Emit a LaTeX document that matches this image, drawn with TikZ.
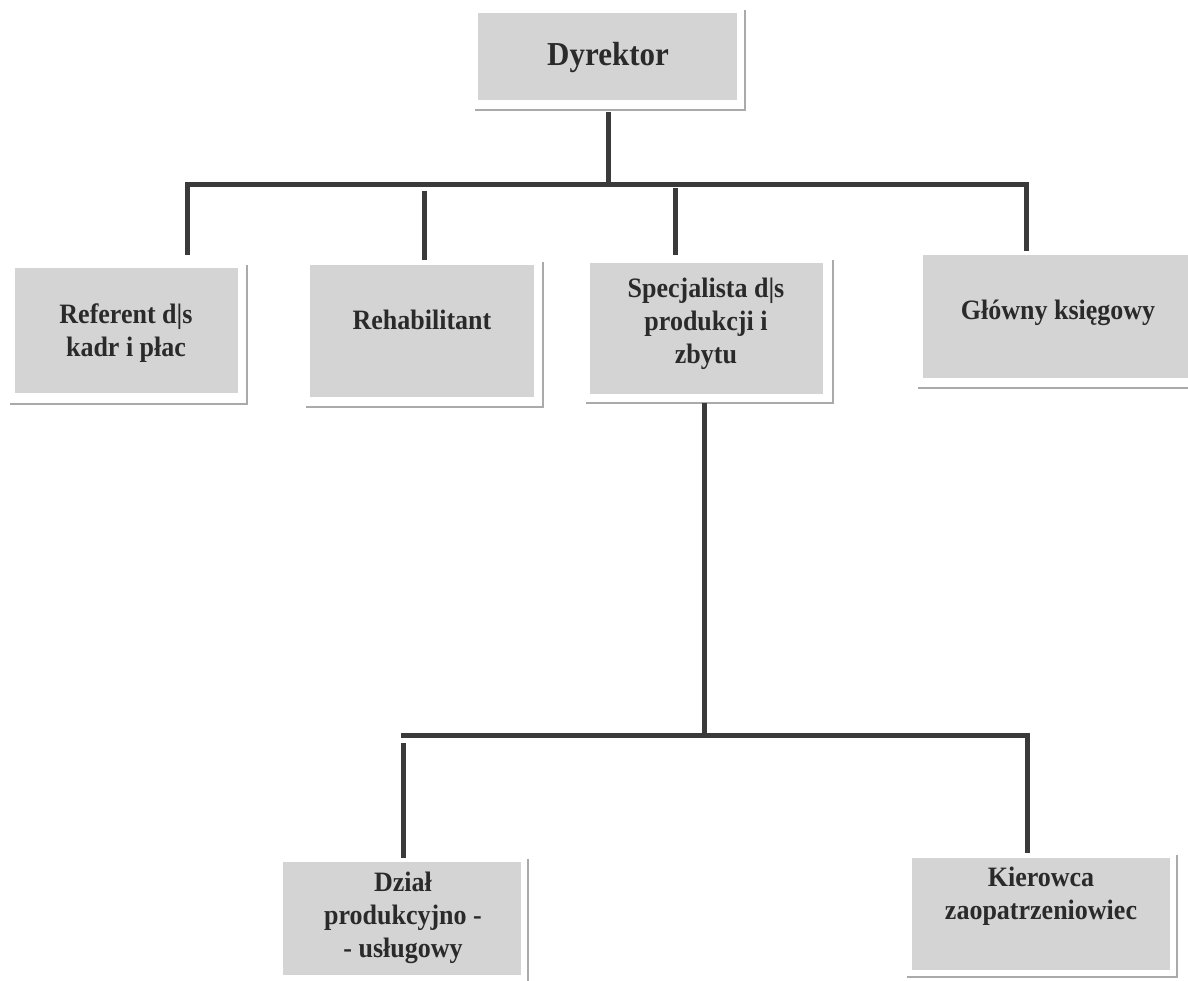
\documentclass[tikz,border=0pt]{standalone}
\usepackage{fontspec}
\usepackage{graphicx}
\setmainfont{Liberation Serif}
\usetikzlibrary{calc}
\definecolor{boxgray}{RGB}{212,212,212}
\definecolor{linegray}{RGB}{58,58,58}
\definecolor{shadowgray}{RGB}{170,170,170}
\definecolor{txtgray}{RGB}{42,42,42}
\newcommand\talltext[1]{\scalebox{1}[1.08]{\begin{tabular}{@{}c@{}}#1\end{tabular}}}
\begin{document}
\begin{tikzpicture}[x=1pt,y=-1pt,
  box/.style={fill=boxgray, draw=none, inner sep=0pt, rectangle},
  txt/.style={font=\bfseries\fontsize{26}{30.5}\selectfont, text=txtgray, align=center, inner sep=0pt},
  conn/.style={draw=linegray, line width=5pt},
  frame/.style={draw=shadowgray, line width=2.5pt}]
\useasboundingbox (0,0) rectangle (1188,981);
\begin{scope}
\clip (0,0) rectangle (1188,981);
% boxes
\node[box, minimum width=259pt, minimum height=87pt] (dyr) at (607.5,56.5) {};
\node[box, minimum width=223pt, minimum height=125pt] (ref) at (126.5,330.5) {};
\node[box, minimum width=224pt, minimum height=132pt] (reh) at (422,331) {};
\node[box, minimum width=233pt, minimum height=131pt] (spec) at (706.5,328.5) {};
\node[box, minimum width=265pt, minimum height=123pt] (glo) at (1055.5,316.5) {};
\node[box, minimum width=238pt, minimum height=113pt] (dzial) at (402,918.5) {};
\node[box, minimum width=258pt, minimum height=112pt] (kier) at (1041,914) {};
% shadow frames
\draw[frame] ($(dyr.north east)+(8,-3)$) |- ($(dyr.south west)+(-3,10)$);
\draw[frame] ($(ref.north east)+(9,-3)$) |- ($(ref.south west)+(-5,11)$);
\draw[frame] ($(reh.north east)+(9,-3)$) |- ($(reh.south west)+(-4,10)$);
\draw[frame] ($(spec.north east)+(10,-3)$) |- ($(spec.south west)+(-4,9)$);
\draw[frame] ($(glo.north east)+(9,-3)$) |- ($(glo.south west)+(-5,10)$);
\draw[frame] ($(dzial.north east)+(7,-3)$) |- ($(dzial.south west)+(-4,10)$);
\draw[frame] ($(kier.north east)+(7,-3)$) |- ($(kier.south west)+(-5,7)$);
\end{scope}
% texts
\node[txt, font=\bfseries\fontsize{31}{36}\selectfont] (tdyr) at (608,58) {\talltext{Dyrektor}};
\node[txt] (tref) at (126,333) {\talltext{Referent d|s\\kadr i płac}};
\node[txt] (treh) at (422,323) {\talltext{Rehabilitant}};
\node[txt] (tspec) at (706,324) {\talltext{Specjalista d|s\\produkcji i\\zbytu}};
\node[txt] (tglo) at (1058,313) {\talltext{Główny księgowy}};
\node[txt] (tdz) at (403,918) {\talltext{Dział\\produkcyjno -\\- usługowy}};
\node[txt] (tkier) at (1041,896) {\talltext{Kierowca\\zaopatrzeniowiec}};
% connector coordinates
\coordinate (dyrout) at ($(dyr.south)+(0.5,12)$);
\coordinate (tj) at (608,185);
\coordinate (tL) at (185,185);
\coordinate (tR) at (1028.5,185);
\coordinate (refin) at (187,255);
\coordinate (rehtop) at (424,191);
\coordinate (rehin) at (424,260);
\coordinate (spectop) at (675,188);
\coordinate (specin) at (675,255);
\coordinate (gloin) at (1026,251);
\coordinate (specout) at (704,403);
\coordinate (bj) at (704,735);
\coordinate (bL) at (400.5,735);
\coordinate (bR) at (1029.5,735);
\coordinate (dztop) at (403,743);
\coordinate (dzin) at (403,858);
\coordinate (kierin) at (1027,853);
% connectors
\draw[conn] (dyrout) -- (tj);
\draw[conn] (tL) -- (tR);
\draw[conn] (tL -| refin) ++(0,-2.5) -- (refin);
\draw[conn] (rehtop) -- (rehin);
\draw[conn] (spectop) -- (specin);
\draw[conn] (tR -| gloin) ++(0,-2.5) -- (gloin);
\draw[conn] (specout) -- (bj);
\draw[conn] (bL) -- (bR);
\draw[conn] (dztop) -- (dzin);
\draw[conn] (bR -| kierin) ++(0,-2.5) -- (kierin);
\end{tikzpicture}
\end{document}
